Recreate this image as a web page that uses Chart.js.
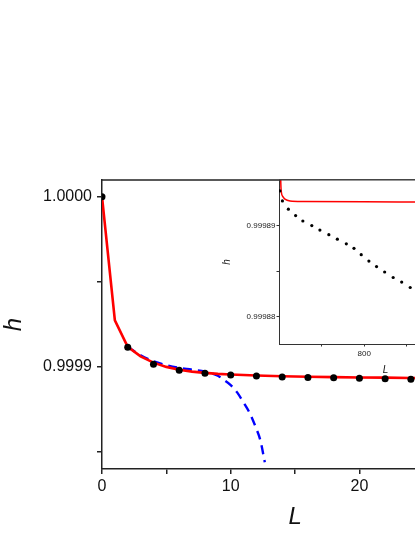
<!DOCTYPE html>
<html>
<head>
    <title>h vs L</title>
    <script src="https://cdn.jsdelivr.net/npm/chart.js@4"></script>
    <style>
        body {
            margin: 0;
            background: #fff;
            overflow: hidden;
            width: 415px;
            height: 537px;
            position: relative;
        }
        #mainChart {
            position: absolute;
            left: 0;
            top: 0;
        }
        #insetChart {
            position: absolute;
            left: 200px;
            top: 170px;
        }
    </style>
</head>
<body>
<canvas id="mainChart" width="500" height="537"></canvas>
<canvas id="insetChart" width="300" height="210"></canvas>
<script>
    // Main plot: black dots (computed h), red solid line, blue dashed approximation
    const dotL = [0, 2, 4, 6, 8, 10, 12, 14, 16, 18, 20, 22, 24];
    const dotH = [1.0, 0.9999115, 0.9999015, 0.9998980, 0.9998963, 0.9998953, 0.9998947,
        0.9998941, 0.9998937, 0.9998936, 0.9998933, 0.9998930, 0.9998927];

    const redL = [0, 1, 2, 3, 4, 5, 6, 7, 8, 9, 10, 12, 14, 16, 18, 20, 22, 24, 26, 28, 30];
    const redH = [1.0, 0.9999273, 0.9999118, 0.9999062, 0.9999025, 0.9999000, 0.9998983,
        0.9998972, 0.9998965, 0.9998959, 0.9998955, 0.9998949, 0.9998945, 0.9998942,
        0.9998940, 0.9998938, 0.9998937, 0.9998935, 0.9998934, 0.9998933, 0.9998932];

    // blue dashed curve (hidden under the red line for L < 2)
    const blueL = [2, 3, 4, 5, 6, 7, 8, 9, 9.5, 10, 10.5, 11, 11.5, 12, 12.3, 12.65];
    const blueH = [0.9999118, 0.9999068, 0.9999033, 0.9999010, 0.9998994,
        0.9998984, 0.9998972, 0.9998948, 0.9998922, 0.9998893, 0.9998850, 0.9998790,
        0.9998725, 0.9998635, 0.9998570, 0.9998440];

    const xTickValues = [0, 5, 10, 15, 20, 25, 30];
    const xTickLabels = ['0', '', '10', '', '20', '', '30'];
    const yTickValues = [0.99985, 0.9999, 0.99995, 1.0];
    const yTickLabels = ['', '0.9999', '', '1.0000'];

    // Inset: larger L
    const insetDotL = [602, 608, 622, 639, 656, 677, 696, 717, 737, 758, 776, 793, 811, 829, 848, 868, 888, 908];
    const insetDotH = [0.9998938, 0.9998927, 0.9998918, 0.9998911, 0.9998905, 0.9998900,
        0.9998895, 0.9998890, 0.9998885, 0.9998880, 0.9998875, 0.9998868, 0.9998861,
        0.9998855, 0.9998849, 0.9998843, 0.9998838, 0.9998832];

    const insetRedL = [603, 604.7, 608.7, 614, 626, 657, 800, 919, 1100];
    const insetRedH = [0.999897, 0.9998941, 0.9998932, 0.9998929, 0.9998927, 0.99989265,
        0.9998926, 0.99989258, 0.99989255];

    const insetXTickValues = [700, 800, 900, 1000];
    const insetXTickLabels = ['', '800', '', '1000'];
    const insetYTickValues = [0.99988, 0.999885, 0.99989];
    const insetYTickLabels = ['0.99988', '', '0.99989'];

    const FONT = 'Liberation Sans, Arial, sans-serif';
    const AXIS = '#222';

    const pairs = (xs, ys) => xs.map((x, i) => ({ x: x, y: ys[i] }));

    // top frame line of the plot box
    const topBorder = {
        id: 'topBorder',
        beforeDraw(chart, args, opts) {
            const { ctx, chartArea } = chart;
            ctx.save();
            if (opts.fill) {
                ctx.fillStyle = '#fff';
                ctx.fillRect(chartArea.left, chartArea.top, chartArea.right - chartArea.left, chartArea.bottom - chartArea.top);
            }
            ctx.restore();
        },
        afterDraw(chart, args, opts) {
            const { ctx, chartArea } = chart;
            ctx.save();
            ctx.strokeStyle = opts.color;
            ctx.lineWidth = opts.width;
            ctx.beginPath();
            ctx.moveTo(chartArea.left, chartArea.top);
            ctx.lineTo(chartArea.right, chartArea.top);
            ctx.stroke();
            ctx.restore();
        }
    };

    new Chart(document.getElementById('mainChart'), {
        type: 'line',
        data: {
            datasets: [{
                label: 'dots',
                data: pairs(dotL, dotH),
                showLine: false,
                pointRadius: 3.5,
                pointBackgroundColor: '#000',
                pointBorderColor: '#000',
                pointBorderWidth: 0
            }, {
                label: 'red',
                data: pairs(redL, redH),
                borderColor: '#ff0000',
                borderWidth: 2.6,
                pointRadius: 0,
                tension: 0
            }, {
                label: 'blue',
                data: pairs(blueL, blueH),
                borderColor: '#0000ff',
                borderWidth: 2.4,
                borderDash: [9, 6],
                pointRadius: 0,
                cubicInterpolationMode: 'monotone'
            }]
        },
        options: {
            responsive: false,
            animation: false,
            devicePixelRatio: 1,
            layout: { padding: { top: 180, right: 8, left: 0, bottom: 0 } },
            plugins: {
                legend: { display: false },
                tooltip: { enabled: false },
                topBorder: { color: AXIS, width: 1.5 }
            },
            scales: {
                x: {
                    type: 'linear',
                    min: 0,
                    max: 30,
                    afterBuildTicks: s => { s.ticks = xTickValues.map(v => ({ value: v })); },
                    afterFit: s => { s.height = 68; },
                    border: { color: AXIS, width: 1.5 },
                    grid: { drawOnChartArea: false, drawTicks: true, tickLength: 5, color: AXIS, lineWidth: 1.5 },
                    ticks: {
                        autoSkip: false,
                        maxRotation: 0,
                        padding: 3,
                        color: '#111',
                        font: { family: FONT, size: 16 },
                        callback: (v, i) => xTickLabels[i]
                    },
                    title: {
                        display: true,
                        text: 'L',
                        color: '#111',
                        font: { family: FONT, size: 24, style: 'italic' },
                        padding: { top: 0, bottom: 5.6 }
                    }
                },
                y: {
                    type: 'linear',
                    min: 0.99984,
                    max: 1.0000098,
                    afterBuildTicks: s => { s.ticks = yTickValues.map(v => ({ value: v })); },
                    afterFit: s => { s.width = 102; },
                    border: { color: AXIS, width: 1.5 },
                    grid: { drawOnChartArea: false, drawTicks: true, tickLength: 5, color: AXIS, lineWidth: 1.5 },
                    ticks: {
                        autoSkip: false,
                        padding: 5,
                        color: '#111',
                        font: { family: FONT, size: 16 },
                        callback: (v, i) => yTickLabels[i]
                    },
                    title: {
                        display: true,
                        text: 'h',
                        color: '#111',
                        font: { family: FONT, size: 24, style: 'italic' },
                        padding: { top: 0, bottom: 0 }
                    }
                }
            }
        },
        plugins: [topBorder]
    });

    new Chart(document.getElementById('insetChart'), {
        type: 'line',
        data: {
            datasets: [{
                label: 'dots',
                data: pairs(insetDotL, insetDotH),
                showLine: false,
                pointRadius: 1.6,
                pointBackgroundColor: '#000',
                pointBorderColor: '#000',
                pointBorderWidth: 0
            }, {
                label: 'red',
                data: pairs(insetRedL, insetRedH),
                borderColor: '#ff0000',
                borderWidth: 1.5,
                pointRadius: 0,
                cubicInterpolationMode: 'monotone'
            }]
        },
        options: {
            responsive: false,
            animation: false,
            devicePixelRatio: 1,
            layout: { padding: { top: 10, right: 8, left: 0, bottom: 0 } },
            plugins: {
                legend: { display: false },
                tooltip: { enabled: false },
                topBorder: { color: '#333', width: 1.2, fill: true }
            },
            scales: {
                x: {
                    type: 'linear',
                    min: 600,
                    max: 1100,
                    afterBuildTicks: s => { s.ticks = insetXTickValues.map(v => ({ value: v })); },
                    afterFit: s => { s.height = 36; },
                    border: { color: '#333', width: 1 },
                    grid: { drawOnChartArea: false, drawTicks: true, tickLength: 2.5, color: '#333', lineWidth: 1 },
                    ticks: {
                        autoSkip: false,
                        maxRotation: 0,
                        padding: 2,
                        color: '#222',
                        font: { family: FONT, size: 8 },
                        callback: (v, i) => insetXTickLabels[i]
                    },
                    title: {
                        display: true,
                        text: 'L',
                        color: '#111',
                        font: { family: FONT, size: 10, style: 'italic' },
                        padding: { top: 0, bottom: 4 }
                    }
                },
                y: {
                    type: 'linear',
                    min: 0.999877,
                    max: 0.999895,
                    afterBuildTicks: s => { s.ticks = insetYTickValues.map(v => ({ value: v })); },
                    afterFit: s => { s.width = 79; },
                    border: { color: '#333', width: 1 },
                    grid: { drawOnChartArea: false, drawTicks: true, tickLength: 2.5, color: '#333', lineWidth: 1 },
                    ticks: {
                        autoSkip: false,
                        padding: 1,
                        color: '#222',
                        font: { family: FONT, size: 8 },
                        callback: (v, i) => insetYTickLabels[i]
                    },
                    title: {
                        display: true,
                        text: 'h',
                        color: '#111',
                        font: { family: FONT, size: 10, style: 'italic' },
                        padding: { top: 21, bottom: 0 }
                    }
                }
            }
        },
        plugins: [topBorder]
    });
</script>
</body>
</html>
